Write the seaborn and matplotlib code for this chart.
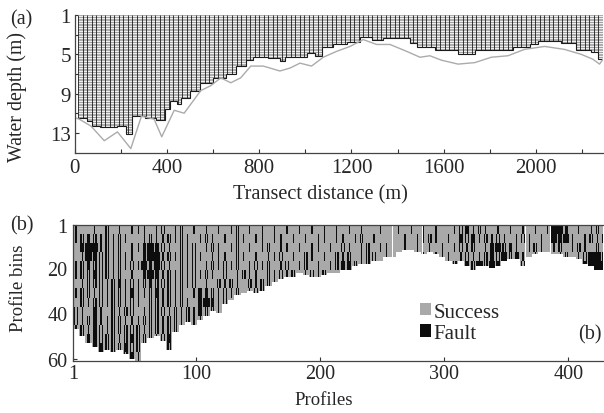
import numpy as np
import pandas as pd
import matplotlib
matplotlib.use('Agg')
import matplotlib.pyplot as plt
from matplotlib.colors import ListedColormap
from matplotlib.patches import Patch
import seaborn as sns

sns.set_style('white')
plt.rcParams['font.family'] = ['Liberation Serif', 'DejaVu Serif']
plt.rcParams['hatch.linewidth'] = 0.35

# (a) 水深断面：网格区的阶梯底边 (起点 m, 深度 m)
seg_start = [16, 52, 74, 110, 182, 225, 247, 305, 355, 391,
             413, 442, 463, 499, 542, 600, 658, 701, 744, 775,
             840, 890, 912, 1006, 1042, 1071, 1121, 1179, 1237, 1287,
             1338, 1395, 1453, 1482, 1561, 1662, 1734, 1900, 1972, 2008,
             2109, 2174, 2239, 2268]
seg_depth = [11.5, 11.8, 12.3, 12.4, 12.3, 13.1, 11.3, 11.5, 11.7, 10.6,
             9.8, 10.1, 9.4, 8.7, 7.9, 7.4, 7.0, 6.2, 5.6, 5.3,
             5.4, 5.7, 5.3, 4.9, 5.15, 4.3, 4.0, 3.7, 3.2, 3.5,
             3.3, 3.35, 3.8, 4.3, 4.55, 5.0, 4.55, 4.3, 4.0, 3.6,
             3.8, 4.55, 4.75, 5.5]
seg_last_end = 2290

# 灰线 (水底)
line_dist = [8, 20, 71, 129, 186, 244, 290, 345, 378, 432,
             475, 547, 590, 634, 677, 720, 764, 818, 890, 934,
             977, 1027, 1078, 1136, 1194, 1251, 1309, 1367, 1439, 1497,
             1540, 1590, 1662, 1734, 1806, 1878, 1950, 2037, 2123, 2195,
             2246, 2275, 2290]
line_depth = [11.5, 11.6, 12.3, 13.8, 12.9, 14.6, 11.3, 11.6, 13.4, 10.7,
              11.0, 8.7, 8.2, 7.4, 7.9, 7.4, 6.2, 6.2, 6.7, 6.4,
              5.9, 6.2, 5.3, 4.7, 4.2, 3.5, 4.0, 4.0, 4.7, 5.3,
              5.15, 5.6, 6.0, 5.85, 5.3, 5.15, 4.5, 4.2, 4.5, 5.0,
              5.5, 6.0, 5.5]

a_xticks = [0, 200, 400, 600, 800, 1000, 1200, 1400, 1600, 1800, 2000, 2200]
a_xlabels = ['0', '', '400', '', '800', '', '1200', '', '1600', '', '2000', '']
a_yticks = [1, 3, 5, 7, 9, 11, 13]
a_ylabels = ['1', '', '5', '', '9', '', '13']

# (b) 每5个剖面一组的有效深度 (bins)
block_bottom = [46, 49, 52, 54, 56, 55, 56, 55, 57, 59,
                61, 52, 50, 49, 51, 55, 47, 44, 43, 44,
                42, 40, 38, 39, 35, 33, 31, 30, 29, 30,
                29, 27, 25, 24, 23, 23, 21, 22, 23, 23,
                22, 21, 21, 20, 20, 18, 17, 17, 16, 16,
                14, 14, 12, 11, 11, 12, 13, 12, 13, 14,
                16, 17, 16, 18, 20, 18, 18, 19, 18, 16,
                15, 15, 18, 14, 13, 12, 12, 13, 13, 14,
                14, 15, 17, 18, 20, 20]
gap_profiles = [258, 282, 365, 385]

# 故障分布：每字符 = 5 个剖面 x 4 个 bin
fault_rows = [
    ":..:.x.:.:" "::.:x.:x.:" ".:.:.:x.:." ":.:.:.:.:." ":.:.:.:..:" ".::.:.:.:." ".:xo:x:.:." ":.:.:.:##o" ".:.:x:",
    ":xox:x:x:." ".:x::x:x:." ":x:.:.x:.:" ":.::.:.:.:" ":.::.:x.:." ".:.:.::x:." ":.oxo:x:x:" ".:x:.:.#o#" ":.:x:x",
    ".o##:x:x.:" ":o#ox:.x:x" ".:x:.:x.:." ":x.::.:.::" ".:.x:.:x.:" ":..:.:.:.:" ".:x:x.:o#x" "o:.:x:.:x." ":x:.x:",
    ".:#oxx:x::" ".o##:x:x:x" ":.:::.x:.:" ".::x.:.x:." ":.x:x.:xx." ":.x.:.:.::" ":.:x::xox#" "xo:.:x:.:x" ".:x##o",
    ":xoxxx:x:x" ":#o#x:.x:x" ".:x:x:x.:x" ":x.:x.:x.:" ".:xoox:xo." ".........." ".x.ox#x#o." "..x......." "..o###",
    ":xxoxx:x.:" ".o#o:x:x:x" ":x:.x.:x::" ".x:x:x.:x:" "x.........",
    ".:xxx:xo:x" ":xoxxx:x:x" ".:.x:x:.x:" "xx:.......",
    ":xx:x:xx:o" "::xo:x:x.:" "oox:x:x.:x" "x.........",
    ".x:xx:xx:x" ":.xx:x:x:." "o#o:x.....",
    "x:.o:.x:xx" ".:xxx:x:x:" "oxx:......",
    "x:xo::xx::" ":xxx:xx:x:" ":.........",
    ":x:ox:xxxx" "x:xx:xx...",
    ".xooxxx:xo" "xxx:xo....",
    ":.:ooxxxox" "x....x....",
    "........xo" ":.........",
]
b_xticks = [1, 100, 200, 300, 400]
b_yticks = [1, 20, 40, 60]
labels_b = ['Success', 'Fault']
colors_b = ['#a9a9a9', '#0d0d0d']

n_prof, n_bin = 430, 60
patterns = {'.': [0, 0, 0, 0, 0], ':': [0, 0, 1, 0, 0], 'x': [0, 1, 0, 1, 0],
            'o': [0, 1, 1, 1, 0], '#': [1, 1, 1, 1, 1]}
fault = np.zeros((n_bin, n_prof))
for r, row in enumerate(fault_rows):
    for c, ch in enumerate(row.ljust(86, '.')):
        fault[4 * r:4 * r + 4, 5 * c:5 * c + 5] = patterns[ch]
bottom = np.repeat(block_bottom, 5)[:n_prof]
valid = np.arange(n_bin)[:, None] < bottom[None, :]
for p in gap_profiles:
    valid[:, p - 1] = False
df_b = pd.DataFrame(fault, index=range(1, n_bin + 1), columns=range(1, n_prof + 1))

fig = plt.figure(figsize=(6.04, 4.14), dpi=100)
ax1 = fig.add_axes([74.5 / 604, 1 - 154 / 414, 528.5 / 604, 138 / 414])
ax2 = fig.add_axes([73 / 604, 1 - 362 / 414, 530 / 604, 136 / 414])

# ---- (a)
edges = np.append(seg_start, seg_last_end)
widths = np.diff(edges)
ax1.bar(seg_start, np.array(seg_depth) - 1, width=widths, bottom=1, align='edge',
        color='white', edgecolor='#3c3c3c', linewidth=0, hatch='-' * 10)
col_x = np.arange(seg_start[0], seg_last_end, 19.6)
idx = np.searchsorted(seg_start, col_x, side='right') - 1
ax1.vlines(col_x, 1, np.array(seg_depth)[idx], color='#1a1a1a', lw=0.6)
ax1.stairs(seg_depth, edges, baseline=None, color='#1a1a1a', lw=0.8)
sns.lineplot(x=line_dist, y=line_depth, ax=ax1, color='#ababab', lw=1.0)

ax1.set_xlim(0, 2290)
ax1.set_ylim(15.05, 1)
ax1.set_xticks(a_xticks)
ax1.set_xticklabels(a_xlabels, fontsize=15)
ax1.set_yticks(a_yticks)
ax1.set_yticklabels(a_ylabels, fontsize=15)
ax1.tick_params(axis='x', direction='in', bottom=True, length=3, width=0.8, color='#333', pad=3.5)
ax1.tick_params(axis='y', direction='in', left=True, length=3, width=0.8, color='#333', pad=2.5)
for s in ['top', 'right']:
    ax1.spines[s].set_visible(False)
for s in ['left', 'bottom']:
    ax1.spines[s].set_color('#444')
    ax1.spines[s].set_linewidth(0.9)
ax1.set_xlabel('Transect distance (m)', fontsize=14.6)
ax1.set_ylabel('Water depth (m)', fontsize=14.3)
ax1.xaxis.set_label_coords(0.4645, -0.225)
ax1.yaxis.set_label_coords(-0.09, 0.41)

# ---- (b)
sns.heatmap(df_b, mask=~valid, cmap=ListedColormap(colors_b), vmin=0, vmax=1,
            cbar=False, ax=ax2, xticklabels=False, yticklabels=False, rasterized=True)
ax2.set_xlim(0, 427)
ax2.set_ylim(60, 0)
ax2.set_xticks([p - 1 for p in b_xticks])
ax2.set_xticklabels([str(p) for p in b_xticks], fontsize=14.5, rotation=0)
ax2.set_yticks([b - 1 for b in b_yticks])
ax2.set_yticklabels([str(b) for b in b_yticks], fontsize=14.5, rotation=0)
ax2.tick_params(axis='x', direction='in', bottom=True, length=3, width=0.8, color='#333', pad=2)
ax2.tick_params(axis='y', direction='in', left=True, length=3, width=0.8, color='#333', pad=4)
for s in ['left', 'bottom', 'top']:
    ax2.spines[s].set_visible(True)
    ax2.spines[s].set_color('#444')
    ax2.spines[s].set_linewidth(0.9)
ax2.spines['right'].set_visible(False)
ax2.set_xlabel('Profiles', fontsize=13.5)
ax2.set_ylabel('Profile bins', fontsize=13.5)
ax2.xaxis.set_label_coords(0.4736, -0.22)
ax2.yaxis.set_label_coords(-0.087, 0.544)

handles = [Patch(facecolor=c, edgecolor='none') for c in colors_b]
ax2.legend(handles, labels_b, loc='upper left', bbox_to_anchor=(0.655, 0.43),
           frameon=False, fontsize=15, handlelength=0.5, handleheight=0.55,
           handletextpad=0.15, labelspacing=0.12, borderpad=0, borderaxespad=0)
ax2.text(0.975, 0.2, '(b)', transform=ax2.transAxes, ha='center', va='center', fontsize=14.5)

fig.text(0.036, 0.953, '(a)', ha='center', va='center', fontsize=14.5)
fig.text(0.036, 0.455, '(b)', ha='center', va='center', fontsize=14.5)

fig.savefig('out.png', dpi=100)
